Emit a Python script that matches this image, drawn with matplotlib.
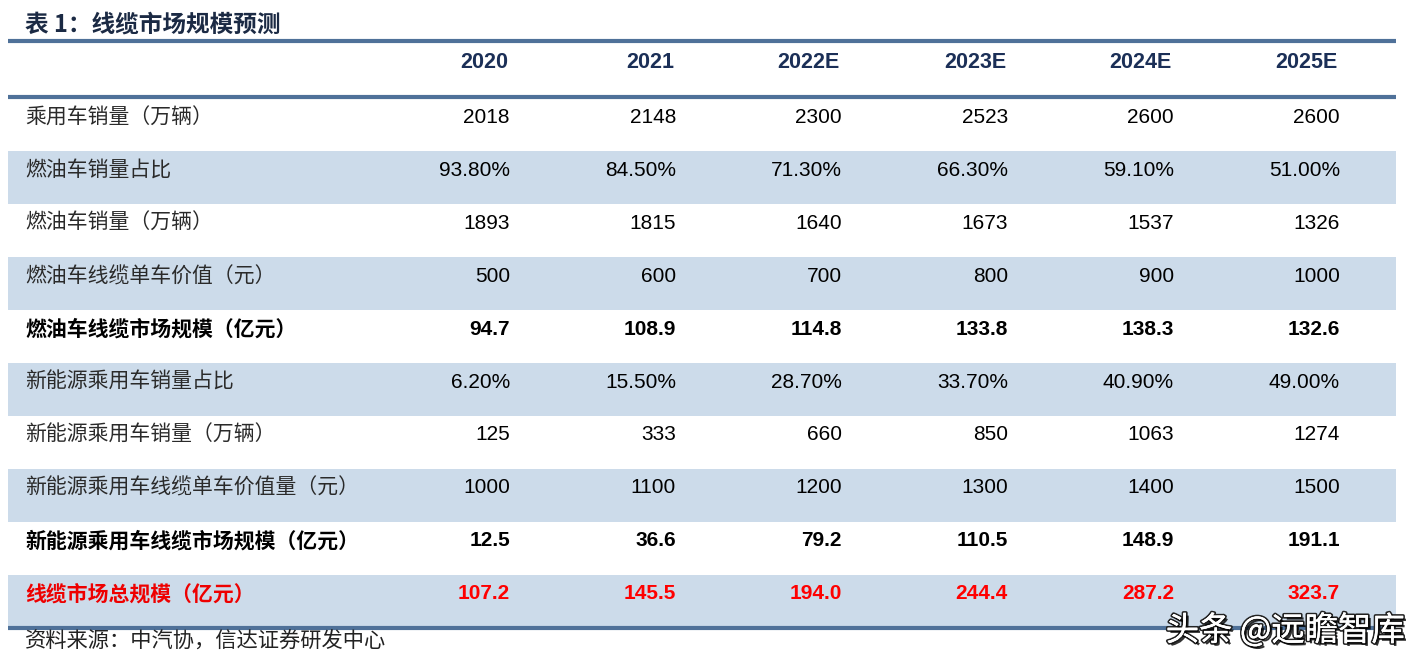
import matplotlib.pyplot as plt
import matplotlib.patheffects as pe

plt.rcParams['font.family'] = ['Liberation Sans', 'Noto Sans CJK SC', 'DejaVu Sans']

title = "表 1：线缆市场规模预测"
source = "资料来源：中汽协，信达证券研发中心"
years = ["2020", "2021", "2022E", "2023E", "2024E", "2025E"]
row_labels = [
    "乘用车销量（万辆）",
    "燃油车销量占比",
    "燃油车销量（万辆）",
    "燃油车线缆单车价值（元）",
    "燃油车线缆市场规模（亿元）",
    "新能源乘用车销量占比",
    "新能源乘用车销量（万辆）",
    "新能源乘用车线缆单车价值量（元）",
    "新能源乘用车线缆市场规模（亿元）",
    "线缆市场总规模（亿元）",
]
values = [
    ["2018", "2148", "2300", "2523", "2600", "2600"],
    ["93.80%", "84.50%", "71.30%", "66.30%", "59.10%", "51.00%"],
    ["1893", "1815", "1640", "1673", "1537", "1326"],
    ["500", "600", "700", "800", "900", "1000"],
    ["94.7", "108.9", "114.8", "133.8", "138.3", "132.6"],
    ["6.20%", "15.50%", "28.70%", "33.70%", "40.90%", "49.00%"],
    ["125", "333", "660", "850", "1063", "1274"],
    ["1000", "1100", "1200", "1300", "1400", "1500"],
    ["12.5", "36.6", "79.2", "110.5", "148.9", "191.1"],
    ["107.2", "145.5", "194.0", "244.4", "287.2", "323.7"],
]
bold_rows = [4, 8, 9]
red_rows = [9]

W, H = 1427, 668
fig = plt.figure(figsize=(W / 100, H / 100), dpi=100)
ax = fig.add_axes([0, 0, 1, 1])
ax.set_xlim(0, W)
ax.set_ylim(H, 0)
ax.axis("off")

cjk = ['Noto Sans CJK SC', 'DejaVu Sans']
line_c = "#4f7199"
band_c = "#ccdbea"
head_c = "#1b2f57"
left, right = 8, 1396
top_line, head_line = 41, 97
row_h = 52.9
col_right = [510 + 166 * i for i in range(len(years))]

# title
ax.text(25, 25, title, fontsize=17, fontweight="bold", color="#1b2a44",
        family=cjk, va="center", ha="left")

# header
ax.plot([left, right], [top_line, top_line], color=line_c, lw=3, solid_capstyle="butt")
ax.plot([left, right], [head_line, head_line], color=line_c, lw=3, solid_capstyle="butt")
for x, y in zip(col_right, years):
    ax.text(x - 2, 62, y, fontsize=15.5, fontweight="bold", color=head_c,
            ha="right", va="center")

# body rows
for i, (lab, vals) in enumerate(zip(row_labels, values)):
    y0 = head_line + 1.5 + i * row_h
    if i % 2 == 1:
        ax.barh(y0 + row_h / 2, right - left, height=row_h, left=left,
                color=band_c, edgecolor="none")
    color = "#ff0000" if i in red_rows else "black"
    weight = "bold" if i in bold_rows else "normal"
    lab_c = "#ee0000" if i in red_rows else ("black" if i in bold_rows else "#2a2a2a")
    yt = y0 + 19
    ax.text(25, yt, lab, fontsize=15, color=lab_c, fontweight=weight,
            family=cjk, ha="left", va="center")
    for x, v in zip(col_right, vals):
        ax.text(x, yt, v, fontsize=15, color=color, fontweight=weight,
                ha="right", va="center")

bottom = head_line + 1.5 + len(row_labels) * row_h
ax.plot([left, right], [bottom, bottom], color=line_c, lw=3, solid_capstyle="butt")

# source note
ax.text(25, 642, source, fontsize=15.3, color="#222222", style="italic",
        family=cjk, ha="left", va="center")

# watermark
ax.text(1405, 631, "头条 @远瞻智库", fontsize=24, color="white",
        family=cjk, ha="right", va="center",
        path_effects=[pe.withStroke(linewidth=2.5, foreground="#222222"),
                      pe.withSimplePatchShadow(offset=(2, -2), shadow_rgbFace="black", alpha=0.8),
                      pe.Normal()])

fig.savefig("out.png", dpi=100, facecolor="white")
plt.close(fig)
